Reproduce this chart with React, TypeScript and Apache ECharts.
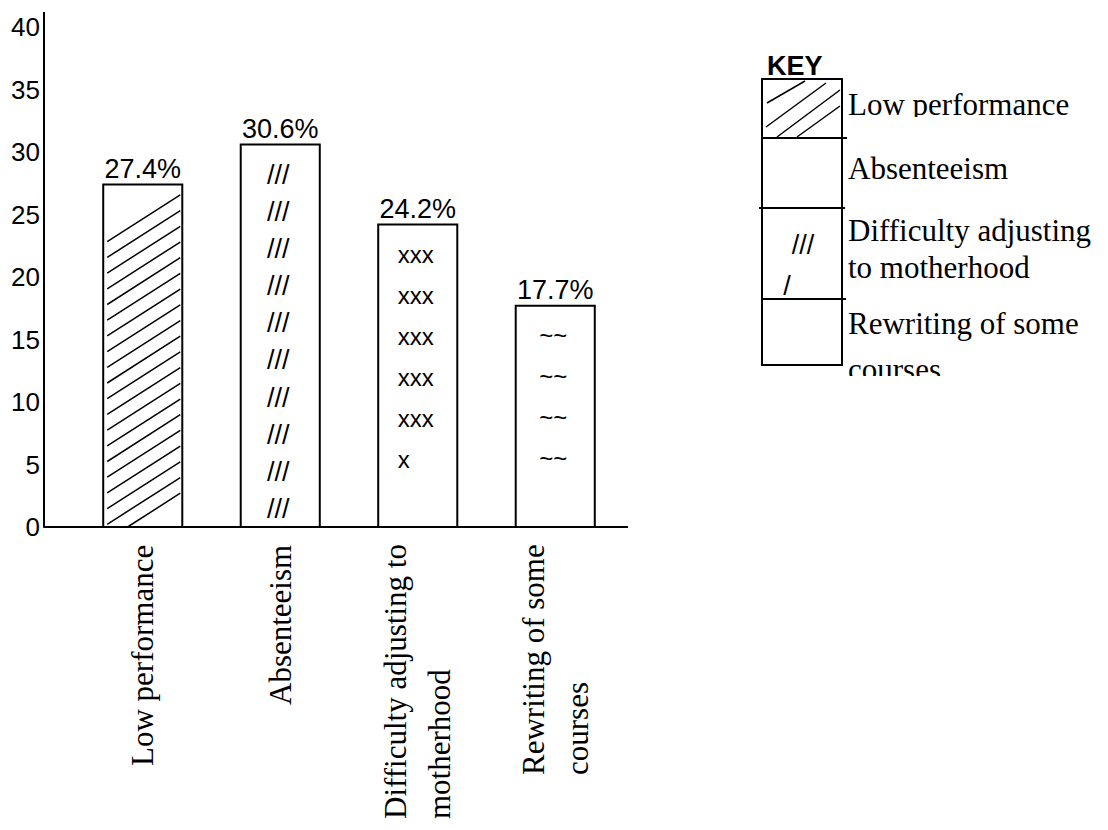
import { useEffect, useRef } from 'react';
import * as echarts from 'echarts';

const categories = ['Low performance', 'Absenteeism', 'Difficulty adjusting to\nmotherhood', 'Rewriting of some\ncourses'];
const values = [27.4, 30.6, 24.2, 17.7];
const yMin = 0;
const yMax = 40;
const yInterval = 5;
const patternKind = ['hatch', 'text', 'text', 'text'];
const patternText = ['', '///', 'xxx', '~~'];
const patternFontSize = [0, 27, 24, 24];
const patternRows = [0, 10, 6, 4];
const lastRowText = ['', '///', 'x', '~~'];
const legendTitle = 'KEY';
const legendLabels = ['Low performance', 'Absenteeism', 'Difficulty adjusting\nto motherhood', 'Rewriting of some\ncourses'];

const SERIF = '"Liberation Serif", "Times New Roman", serif';
const SANS = '"Liberation Sans", Arial, sans-serif';

function measure(text: string, font: string): number {
  const c = document.createElement('canvas');
  const ctx = c.getContext('2d');
  if (!ctx) return text.length * 14;
  ctx.font = font;
  return ctx.measureText(text).width;
}

function txt(x: number, y: number, text: string, opts: any = {}) {
  const align = opts.align || 'left';
  const valign = opts.valign || 'middle';
  return {
    type: 'text',
    x,
    y,
    z: opts.z ?? 5,
    style: {
      text,
      fill: '#000',
      fontSize: opts.fontSize || 31,
      fontFamily: opts.fontFamily || SERIF,
      fontWeight: opts.fontWeight || 'normal',
      align,
      textAlign: align,
      verticalAlign: valign,
      textVerticalAlign: valign,
    },
  };
}

function ln(x1: number, y1: number, x2: number, y2: number, w = 2, z = 6) {
  return { type: 'line', z, shape: { x1, y1, x2, y2 }, style: { stroke: '#000', lineWidth: w } };
}

export default function App() {
  const ref = useRef<HTMLDivElement>(null);

  useEffect(() => {
    document.body.style.margin = '0';
    if (!ref.current) return;
    const chart = echarts.init(ref.current, undefined, { renderer: 'svg' });

    const labelFont = `31px "Liberation Serif"`;
    const rich: any = {};
    categories.forEach((c, i) => {
      const w = Math.max(...c.split('\n').map((l) => measure(l, labelFont)));
      rich['c' + i] = {
        width: Math.ceil(w) + 1,
        align: 'left',
        fontSize: 31,
        fontFamily: SERIF,
        lineHeight: 44,
        color: '#000',
      };
    });

    const renderItem = (params: any, api: any) => {
      const i = params.dataIndex;
      const cat = api.value(0);
      const v = api.value(1);
      const topPt = api.coord([cat, v]);
      const basePt = api.coord([cat, 0]);
      const bw = api.size([1, 0])[0] * 0.575;
      const cx = topPt[0];
      const x0 = cx - bw / 2;
      const x1 = cx + bw / 2;
      const top = topPt[1];
      const bottom = basePt[1];
      const children: any[] = [
        {
          type: 'rect',
          shape: { x: x0, y: top, width: bw, height: bottom - top },
          style: { fill: '#fff', stroke: '#000', lineWidth: 2 },
        },
      ];
      if (patternKind[i] === 'hatch') {
        const spacing = 15.7;
        const slope = 0.64;
        const xa = x0 + 4;
        const xb = x1 - 2;
        const span = xb - xa;
        for (let k = 0; k < 200; k++) {
          const c = bottom + 13 - k * spacing;
          const yb = c - slope * span;
          if (yb < top + 5) break;
          let xs = xa;
          let ys = c;
          if (c > bottom) {
            xs = xa + (c - bottom) / slope;
            ys = bottom;
          }
          if (xs >= xb) continue;
          children.push({
            type: 'line',
            shape: { x1: xs, y1: ys, x2: xb, y2: yb },
            style: { stroke: '#000', lineWidth: 1.5 },
          });
        }
      } else {
        const n = patternRows[i];
        const fs = patternFontSize[i];
        const first = top + 30;
        const lastMax = bottom - 18;
        const step = n > 1 ? Math.min(41, (lastMax - first) / (n - 1)) : 0;
        const w = measure(patternText[i], `${fs}px "Liberation Sans"`);
        const lx = cx - w / 2 - 2;
        for (let r = 0; r < n; r++) {
          const t = r === n - 1 ? lastRowText[i] : patternText[i];
          children.push({
            type: 'text',
            x: lx,
            y: first + r * step,
            style: {
              text: t,
              fill: '#000',
              fontSize: fs,
              fontFamily: SANS,
              align: 'left',
              textAlign: 'left',
              verticalAlign: 'middle',
              textVerticalAlign: 'middle',
            },
          });
        }
      }
      children.push({
        type: 'text',
        x: cx,
        y: top - 2,
        style: {
          text: `${values[i]}%`,
          fill: '#000',
          fontSize: 27,
          fontFamily: SANS,
          align: 'center',
          textAlign: 'center',
          verticalAlign: 'bottom',
          textVerticalAlign: 'bottom',
        },
      });
      return { type: 'group', children };
    };

    // legend (KEY box) layout
    const keyX = 762;
    const keyW = 80;
    const rowTops = [79, 138, 208, 299, 365];
    const legendLineY = [[104], [168], [230, 267], [323, 369]];
    const graphic: any[] = [
      // axis line extensions
      ln(44, 12, 44, 28, 2),
      ln(44, 527, 628, 527, 2),
      // KEY
      txt(767, 66, legendTitle, { fontSize: 27, fontFamily: SANS, fontWeight: 'bold' }),
      {
        type: 'rect',
        z: 6,
        shape: { x: keyX, y: rowTops[0], width: keyW, height: rowTops[4] - rowTops[0] },
        style: { fill: 'none', stroke: '#000', lineWidth: 2 },
      },
      ln(762, rowTops[1], 847, rowTops[1]),
      ln(759, rowTops[2], 845, rowTops[2]),
      ln(761, rowTops[3], 846, rowTops[3]),
      // hatch in first key cell
      ln(767, 103, 805, 81, 1.5),
      ln(766, 127, 826, 83, 1.5),
      ln(777, 137, 840, 90, 1.5),
      ln(797, 137, 840, 106, 1.5),
      // slashes in third key cell
      txt(803, 245, '///', { fontSize: 27, fontFamily: SANS, align: 'center' }),
      txt(787, 286, '/', { fontSize: 27, fontFamily: SANS, align: 'center' }),
    ];
    legendLabels.forEach((lab, i) => {
      lab.split('\n').forEach((line, j) => {
        graphic.push(txt(848, legendLineY[i][j], line, { fontSize: 31, fontFamily: SERIF }));
      });
    });
    // clipped text-box overflow, as in the original key
    graphic.push({ type: 'rect', z: 10, shape: { x: 846, y: 117, width: 260, height: 19 }, style: { fill: '#fff' } });
    graphic.push({ type: 'rect', z: 10, shape: { x: 846, y: 376, width: 260, height: 30 }, style: { fill: '#fff' } });

    chart.setOption({
      animation: false,
      backgroundColor: '#fff',
      grid: { left: 74, top: 27, width: 550, height: 500, containLabel: false },
      xAxis: {
        type: 'category',
        data: categories,
        axisLine: { show: false },
        axisTick: { show: false },
        splitLine: { show: false },
        axisLabel: {
          interval: 0,
          rotate: 90,
          margin: 16,
          color: '#000',
          fontSize: 31,
          fontFamily: SERIF,
          formatter: (val: string, idx: number) =>
            val
              .split('\n')
              .map((l) => `{c${idx}|${l}}`)
              .join('\n'),
          rich,
        },
      },
      yAxis: {
        type: 'value',
        min: yMin,
        max: yMax,
        interval: yInterval,
        offset: 30,
        axisLine: { show: true, lineStyle: { color: '#000', width: 2 } },
        axisTick: { show: false },
        splitLine: { show: false },
        axisLabel: { color: '#000', fontSize: 26, fontFamily: SANS, margin: 4 },
      },
      series: [
        {
          type: 'custom',
          data: values.map((v, i) => [i, v]),
          encode: { x: 0, y: 1 },
          renderItem,
          clip: false,
        },
      ],
      graphic,
    });

    return () => {
      chart.dispose();
    };
  }, []);

  return <div ref={ref} style={{ width: 1108, height: 830 }} />;
}
